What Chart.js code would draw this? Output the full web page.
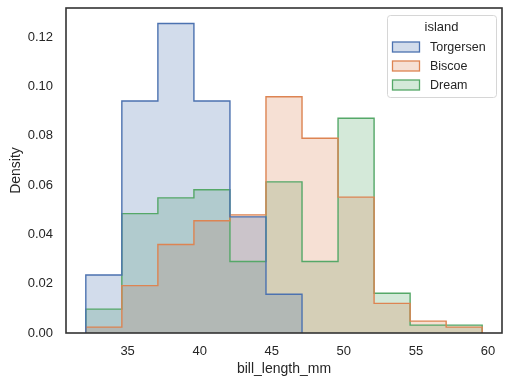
<!DOCTYPE html>
<html>
<head>
<meta charset="utf-8">
<script src="https://cdn.jsdelivr.net/npm/chart.js@4"></script>
<style>
  html, body { margin: 0; padding: 0; background: #fff; }
  #wrap { width: 510px; height: 385px; }
</style>
</head>
<body>
<div id="wrap"><canvas id="histChart"></canvas></div>
<script>
// bin edges of bill_length_mm (11 bins, width 2.5)
const binEdges = [32.1, 34.6, 37.1, 39.6, 42.1, 44.6, 47.1, 49.6, 52.1, 54.6, 57.1, 59.6];
const islands = ['Torgersen', 'Biscoe', 'Dream'];
// density per bin
const torgersen = [0.0235, 0.0941, 0.1255, 0.0941, 0.0471, 0.0157];
const biscoe = [0.0024, 0.0192, 0.0359, 0.0455, 0.0479, 0.0958, 0.0790, 0.0551, 0.0120, 0.0048, 0.0024];
const dream = [0.0097, 0.0484, 0.0548, 0.0581, 0.0290, 0.0613, 0.0290, 0.0871, 0.0161, 0.0032, 0.0032];
const xTicks = [35, 40, 45, 50, 55, 60];
const yTicks = [0, 0.02, 0.04, 0.06, 0.08, 0.10, 0.12];

const colors = ['#4c72b0', '#dd8452', '#55a868'];
const fills = ['rgba(76,114,176,0.25)', 'rgba(221,132,82,0.25)', 'rgba(85,168,104,0.25)'];
const FONT = '"Liberation Sans", Arial, sans-serif';
const TEXT = '#262626';

// step outline: up at first edge, across each bin, down at last edge
function stepPoints(vals) {
  const pts = [{ x: binEdges[0], y: 0 }];
  vals.forEach((v, i) => pts.push({ x: binEdges[i], y: v }));
  const end = binEdges[vals.length];
  pts.push({ x: end, y: vals[vals.length - 1] });
  pts.push({ x: end, y: 0 });
  return pts;
}

const series = [torgersen, biscoe, dream];

// frame + inside legend like matplotlib
const framePlugin = {
  id: 'frame',
  afterDraw(chart) {
    const { ctx, chartArea: a } = chart;
    ctx.save();
    ctx.strokeStyle = '#333';
    ctx.lineWidth = 1.6;
    ctx.strokeRect(a.left, a.top, a.right - a.left, a.bottom - a.top);

    // legend
    const bx = 387, by = 15, bw = 109, bh = 82;
    ctx.fillStyle = 'rgba(255,255,255,0.8)';
    ctx.strokeStyle = '#d6d6d6';
    ctx.lineWidth = 1;
    ctx.beginPath();
    ctx.roundRect(bx + 0.5, by + 0.5, bw, bh, 3);
    ctx.fill();
    ctx.stroke();
    ctx.fillStyle = TEXT;
    ctx.font = '13px ' + FONT;
    ctx.textAlign = 'center';
    ctx.textBaseline = 'middle';
    ctx.fillText('island', bx + bw / 2, by + 12);
    ctx.font = '12.5px ' + FONT;
    ctx.textAlign = 'left';
    islands.forEach((name, i) => {
      const y = by + 32 + i * 19;
      ctx.fillStyle = fills[i];
      ctx.fillRect(392.5, y - 5, 27, 10);
      ctx.strokeStyle = colors[i];
      ctx.lineWidth = 1.3;
      ctx.strokeRect(392.5, y - 5, 27, 10);
      ctx.fillStyle = TEXT;
      ctx.fillText(name, 430, y + 0.5);
    });
    ctx.restore();
  }
};

new Chart(document.getElementById('histChart'), {
  type: 'line',
  data: {
    datasets: series.map((vals, i) => ({
      label: islands[i],
      data: stepPoints(vals),
      stepped: 'before',
      borderColor: colors[i],
      backgroundColor: fills[i],
      borderWidth: 1.4,
      fill: 'origin',
      pointRadius: 0,
      tension: 0
    }))
  },
  options: {
    responsive: true,
    maintainAspectRatio: false,
    animation: false,
    layout: { padding: { top: 8, right: 8, left: 0, bottom: 0 } },
    plugins: {
      legend: { display: false },
      tooltip: { enabled: false },
      filler: { drawTime: 'beforeDatasetsDraw' }
    },
    scales: {
      x: {
        type: 'linear',
        min: 30.725,
        max: 60.975,
        afterBuildTicks: s => { s.ticks = xTicks.map(v => ({ value: v })); },
        afterFit: s => { s.height = 52; s.paddingLeft = 0; s.paddingRight = 0; },
        grid: { display: false },
        border: { display: false },
        ticks: {
          color: TEXT,
          font: { family: FONT, size: 13 },
          padding: 3,
          maxRotation: 0,
          callback: v => String(v)
        },
        title: {
          display: true,
          text: 'bill_length_mm',
          color: TEXT,
          font: { family: FONT, size: 14 },
          padding: { top: 1, bottom: 7 }
        }
      },
      y: {
        min: 0,
        max: 0.1318,
        afterBuildTicks: s => { s.ticks = yTicks.map(v => ({ value: v })); },
        afterFit: s => { s.width = 66; s.paddingTop = 0; s.paddingBottom = 0; },
        grid: { display: false },
        border: { display: false },
        ticks: {
          color: TEXT,
          font: { family: FONT, size: 13 },
          padding: 5,
          callback: v => v.toFixed(2)
        },
        title: {
          display: true,
          text: 'Density',
          color: TEXT,
          font: { family: FONT, size: 14 },
          padding: { top: 8, bottom: 0 }
        }
      }
    }
  },
  plugins: [framePlugin]
});
</script>
</body>
</html>
